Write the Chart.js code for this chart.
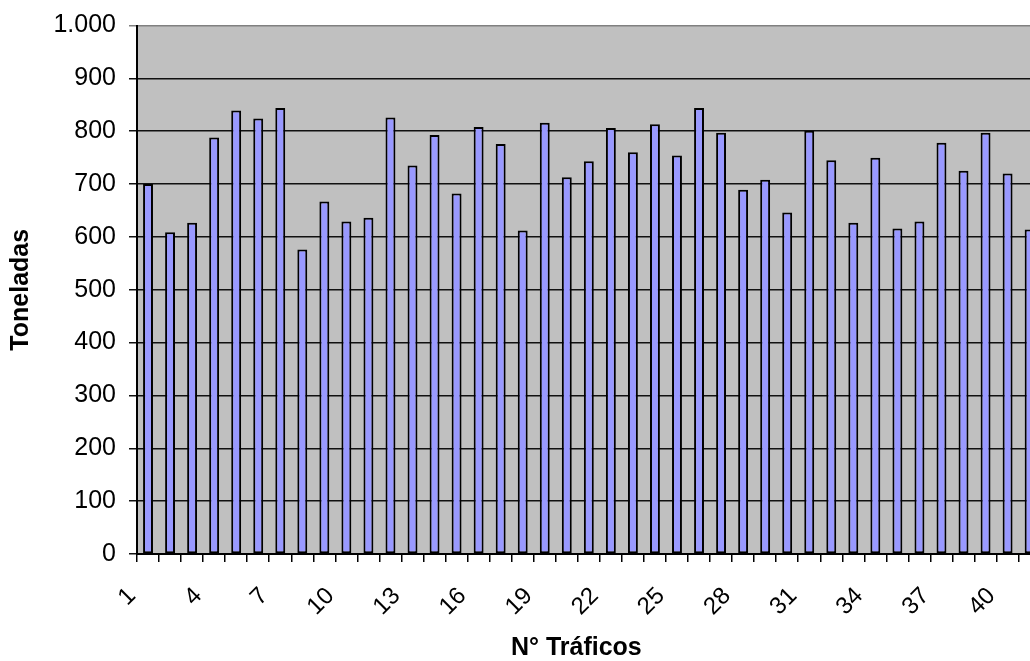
<!DOCTYPE html>
<html>
<head>
<meta charset="utf-8">
<script src="https://cdn.jsdelivr.net/npm/chart.js@4/dist/chart.umd.min.js"></script>
<style>
  html, body { margin: 0; padding: 0; overflow: hidden; background: #fff; }
  #wrap { width: 1070px; height: 661px; position: relative; }
</style>
</head>
<body>
<div id="wrap"><canvas id="chart"></canvas></div>
<script>
// Toneladas por tráfico
const trafficos = ['1','2','3','4','5','6','7','8','9','10','11','12','13','14','15','16','17','18','19','20',
  '21','22','23','24','25','26','27','28','29','30','31','32','33','34','35','36','37','38','39','40','41'];
const toneladas = [700, 609, 627, 788, 839, 824, 844, 576, 667, 629, 636, 826, 735, 793, 682, 808, 776, 612, 816, 713,
  743, 806, 760, 813, 754, 844, 797, 689, 708, 646, 801, 745, 627, 750, 616, 629, 778, 725, 797, 720, 614];
const yMin = 0;
const yMax = 1000;
const yStep = 100;

const FONT = 'Liberation Sans, Arial, sans-serif';

// plot area fill (Excel grey)
const plotBg = {
  id: 'plotBg',
  beforeDraw(chart) {
    const { ctx, chartArea: a } = chart;
    ctx.save();
    ctx.fillStyle = '#C0C0C0';
    ctx.fillRect(a.left, a.top, a.right - a.left, a.bottom - a.top);
    ctx.restore();
  }
};

new Chart(document.getElementById('chart'), {
  type: 'bar',
  data: {
    labels: trafficos,
    datasets: [{
      data: toneladas,
      backgroundColor: '#9999FF',
      borderColor: '#000',
      borderWidth: 2,
      borderSkipped: false,
      categoryPercentage: 1,
      barPercentage: 0.45,
    }]
  },
  options: {
    responsive: true,
    maintainAspectRatio: false,
    animation: false,
    layout: { padding: { top: 24, right: 0, left: 0, bottom: 0 } },
    plugins: { legend: { display: false }, tooltip: { enabled: false } },
    scales: {
      x: {
        afterFit: s => { s.height = 107; },
        border: { color: '#000', width: 2 },
        grid: { drawOnChartArea: false, drawTicks: true, tickLength: 8, color: '#000', lineWidth: 1.5 },
        ticks: {
          autoSkip: false,
          minRotation: 45,
          maxRotation: 45,
          padding: 20,
          labelOffset: -16,
          color: '#000',
          font: { family: FONT, size: 24 },
          callback(val, i) { return i % 3 === 0 ? this.getLabelForValue(val) : ''; }
        },
        title: {
          display: true,
          text: 'N° Tráficos\u2003',
          color: '#000',
          font: { family: FONT, size: 25, weight: 'bold', lineHeight: 1 },
          padding: { top: 0, bottom: 0 }
        }
      },
      y: {
        min: yMin,
        max: yMax,
        afterFit: s => { s.width = 137; },
        border: { color: '#000', width: 2 },
        grid: {
          color: c => c.tick && c.tick.value === yMax ? '#808080' : '#111',
          lineWidth: 1.5,
          tickLength: 8,
        },
        ticks: {
          stepSize: yStep,
          padding: 13,
          color: '#000',
          font: { family: FONT, size: 25, lineHeight: 1 },
          callback: v => v.toLocaleString('de-DE')
        },
        title: {
          display: true,
          text: 'Toneladas',
          color: '#000',
          font: { family: FONT, size: 25, weight: 'bold', lineHeight: 1.2 },
          padding: { top: 6, bottom: 0 }
        }
      }
    }
  },
  plugins: [plotBg]
});
</script>
</body>
</html>
